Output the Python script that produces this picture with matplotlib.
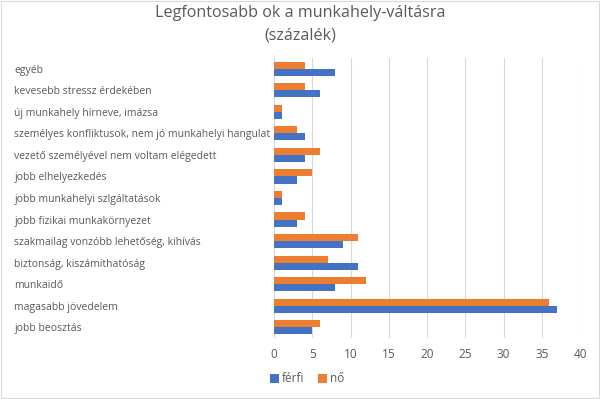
import numpy as np
import matplotlib.pyplot as plt

# categories listed bottom to top (as in the chart)
categories = ['jobb beosztás', 'magasabb jövedelem', 'munkaidő',
              'biztonság, kiszámíthatóság',
              'szakmailag vonzóbb lehetőség, kihívás',
              'jobb fizikai munkakörnyezet',
              'jobb munkahelyi szlgáltatások', 'jobb elhelyezkedés',
              'vezető személyével nem voltam elégedett',
              'személyes konfliktusok, nem jó munkahelyi hangulat',
              'új munkahely hírneve, imázsa',
              'kevesebb stressz érdekében', 'egyéb']
ferfi = [5, 37, 8, 11, 9, 3, 1, 3, 4, 4, 1, 6, 8]
no = [6, 36, 12, 7, 11, 4, 1, 5, 6, 3, 1, 4, 4]
xticks = [0, 5, 10, 15, 20, 25, 30, 35, 40]

blue = '#4472C4'
orange = '#ED7D31'
txt = '#595959'
plt.rcParams['font.family'] = ['Open Sans', 'DejaVu Sans']

fig = plt.figure(figsize=(6, 3.99), dpi=100)
ax = fig.add_axes([274/600, 1-338/399, 306/600, 280/399])

y = np.arange(len(categories))
h = 0.33
ax.barh(y - h/2, ferfi, height=h, color=blue, label='férfi', zorder=3)
ax.barh(y + h/2, no, height=h, color=orange, label='nő', zorder=3)

ax.set_xlim(0, 40)
ax.set_ylim(-0.5, len(categories) - 0.5)
ax.set_xticks(xticks)
ax.set_xticklabels([str(v) for v in xticks], fontsize=8.5, color=txt)
ax.set_yticks(y)
ax.set_yticklabels(categories, fontsize=7.5, color=txt, ha='left')
ax.tick_params(axis='y', length=0, pad=187)
ax.tick_params(axis='x', length=0, pad=7)
ax.grid(axis='x', color='#D9D9D9', linewidth=0.8, zorder=0)
for s in ax.spines.values():
    s.set_visible(False)

fig.text(0.5, 1-13/399, 'Legfontosabb ok a munkahely-váltásra', ha='center', va='center',
         fontsize=11.6, color=txt)
fig.text(0.5, 1-35/399, '(százalék)', ha='center', va='center', fontsize=11.6, color=txt)

fig.legend(loc='center', bbox_to_anchor=(307/600, 1-379/399), ncol=2, frameon=False,
           fontsize=8.5, labelcolor=txt, handlelength=0.75, handleheight=0.75,
           handletextpad=0.25, columnspacing=1.2)

fig.patches.append(plt.Rectangle((0.002, 0.002), 0.996, 0.996, transform=fig.transFigure,
                                 fill=False, edgecolor='#D9D9D9', linewidth=0.8))

fig.savefig('out.png', dpi=100)
